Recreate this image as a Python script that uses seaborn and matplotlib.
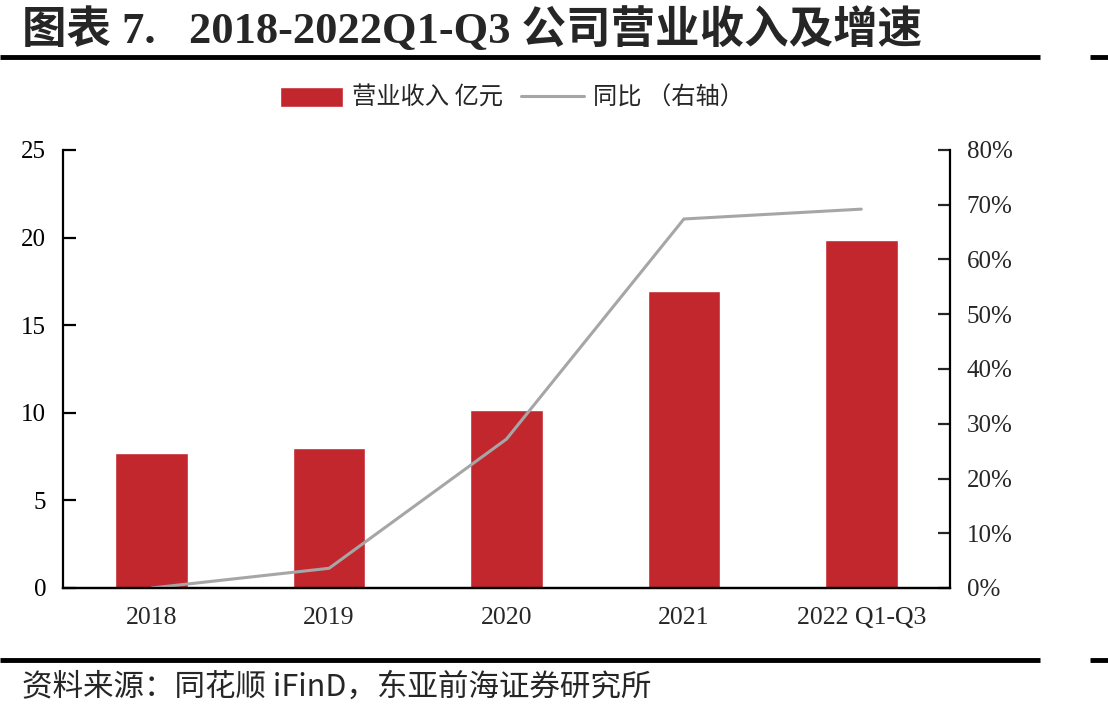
import matplotlib
matplotlib.use("Agg")
import matplotlib.pyplot as plt
import seaborn as sns
import pandas as pd
from matplotlib.ticker import FuncFormatter

sns.set_theme(style="white")
plt.rcParams['font.family'] = ['Liberation Serif', 'Noto Sans CJK SC']

# data
years = ['2018', '2019', '2020', '2021', '2022 Q1-Q3']
revenue = [7.7, 8.0, 10.15, 16.95, 19.85]      # 营业收入 亿元
yoy = [0.0, 3.6, 27.2, 67.4, 69.2]             # 同比 %

df = pd.DataFrame({'year': years, 'revenue': revenue, 'yoy': yoy})

red = '#C1272D'
grey = '#A6A6A6'

fig = plt.figure(figsize=(11.08, 7.14), dpi=100)
ax = fig.add_axes([63/1108, 1-588/714, 887/1108, 438/714])

sns.barplot(data=df, x='year', y='revenue', color=red, width=0.41,
            saturation=1, ax=ax, label='营业收入 亿元')
ax.set_xlim(-0.5, 4.5)
ax.set_ylim(0, 25)
ax.set_yticks([0, 5, 10, 15, 20, 25])
ax.set_xlabel('')
ax.set_ylabel('')

ax2 = ax.twinx()
sns.lineplot(data=df, x='year', y='yoy', color=grey, linewidth=2.2,
             ax=ax2, label='同比 （右轴）', sort=False)
ax2.set_ylim(0, 80)
ax2.set_yticks(range(0, 81, 10))
ax2.yaxis.set_major_formatter(FuncFormatter(lambda v, p: f'{v:.0f}%'))
ax2.set_ylabel('')
ax2.set_xlim(-0.5, 4.5)

for a in (ax, ax2):
    for s in a.spines.values():
        s.set_visible(False)
        s.set_color('black')
        s.set_linewidth(1.6)
ax.spines['left'].set_visible(True)
ax.spines['bottom'].set_visible(True)
ax2.spines['right'].set_visible(True)
ax2.spines['bottom'].set_visible(True)

ax.tick_params(axis='y', direction='in', length=9, width=1.6, labelsize=18,
               pad=12, left=True, colors='black')
ax.tick_params(axis='x', length=0, labelsize=18.5, pad=14)
ax2.tick_params(axis='y', direction='in', length=9, width=1.6, labelsize=18,
                pad=12, right=True)

# legend on top
h1, l1 = ax.get_legend_handles_labels()
h2, l2 = ax2.get_legend_handles_labels()
if ax2.get_legend():
    ax2.get_legend().remove()
if ax.get_legend():
    ax.get_legend().remove()
fig.legend(h1 + h2, l1 + l2, loc='center', bbox_to_anchor=(512/1108, 1-98/714),
           ncol=2, frameon=False, prop={'family': ['Noto Sans CJK SC'], 'size': 17.5},
           handlelength=2.6, handleheight=0.9, columnspacing=0.7, handletextpad=0.4)

# header / footer
fig.text(22/1108, 1-30/714, '图表 7.   2018-2022Q1-Q3 公司营业收入及增速',
         fontsize=32, fontweight='bold', va='center', ha='left',
         family=['Liberation Serif', 'Noto Sans CJK SC'])
fig.add_artist(plt.Line2D([0, 1040/1108], [1-57/714]*2, color='black', lw=3.5,
                          solid_capstyle='butt'))
fig.add_artist(plt.Line2D([1090/1108, 1], [1-57/714]*2, color='black', lw=3.5,
                          solid_capstyle='butt'))
fig.add_artist(plt.Line2D([0, 1040/1108], [1-660/714]*2, color='black', lw=3.5,
                          solid_capstyle='butt'))
fig.add_artist(plt.Line2D([1090/1108, 1], [1-660/714]*2, color='black', lw=3.5,
                          solid_capstyle='butt'))
fig.text(22/1108, 1-687/714, '资料来源：同花顺 iFinD，东亚前海证券研究所',
         fontsize=22, va='center', ha='left',
         family=['Noto Sans CJK SC', 'Liberation Serif'])

fig.savefig('out.png', dpi=100)
